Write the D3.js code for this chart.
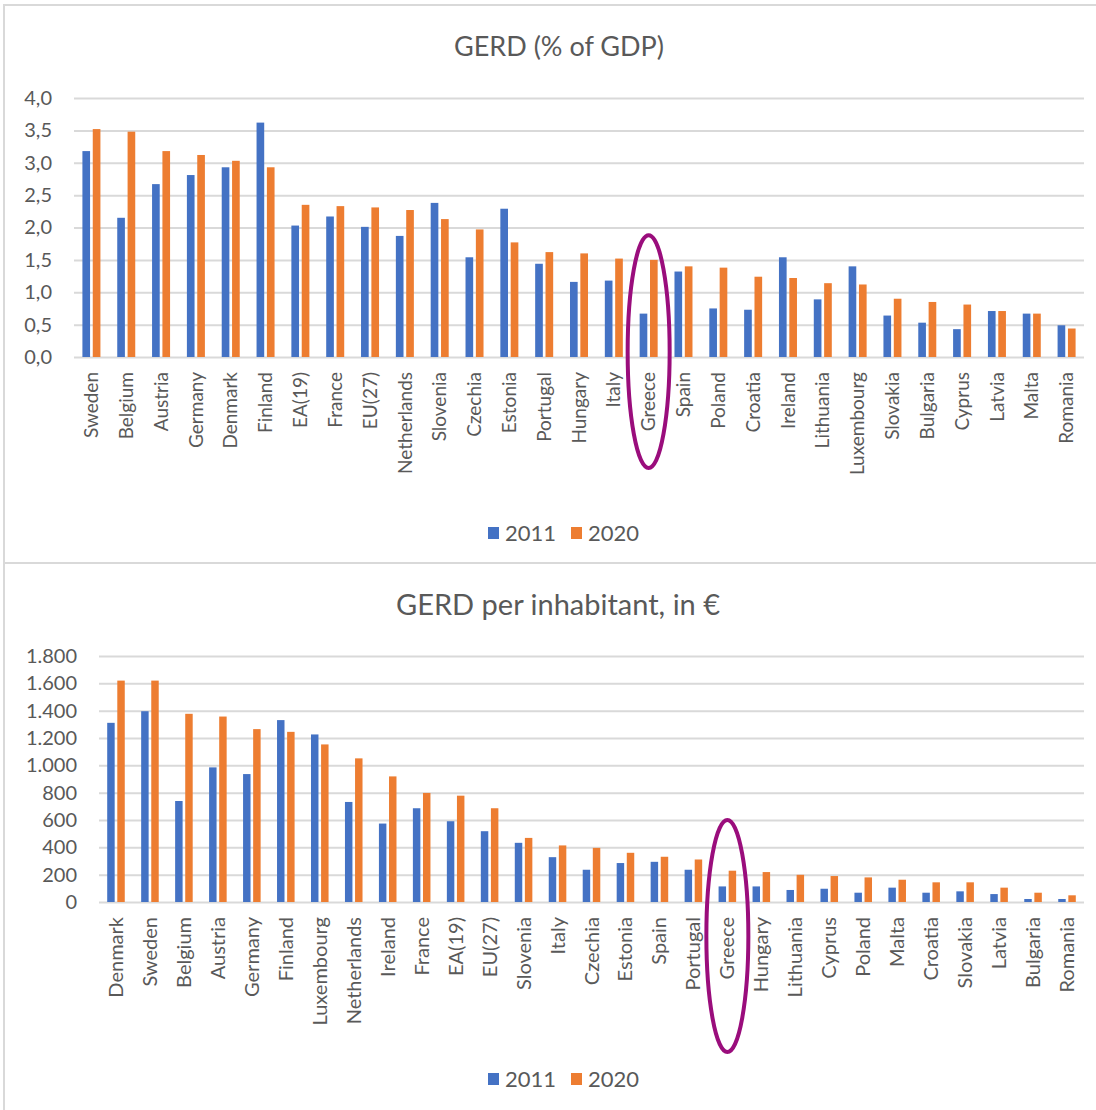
<!DOCTYPE html>
<html>
<head>
<meta charset="utf-8">
<script src="https://cdn.jsdelivr.net/npm/d3@7"></script>
<style>
  html, body { margin: 0; padding: 0; background: #fff; }
  svg { display: block; }
  text { font-family: Lato, "Open Sans", sans-serif; fill: #595959; }
</style>
</head>
<body>
<svg id="chart" width="1096" height="1110"></svg>
<script>
// ---------- DATA ----------
const seriesNames = ["2011", "2020"];

// Chart 1: GERD (% of GDP)
const gdpCountries = ["Sweden","Belgium","Austria","Germany","Denmark","Finland","EA(19)","France","EU(27)","Netherlands","Slovenia","Czechia","Estonia","Portugal","Hungary","Italy","Greece","Spain","Poland","Croatia","Ireland","Lithuania","Luxembourg","Slovakia","Bulgaria","Cyprus","Latvia","Malta","Romania"];
const gdp2011 = [3.18,2.15,2.67,2.81,2.93,3.62,2.03,2.17,2.01,1.87,2.38,1.54,2.29,1.44,1.16,1.18,0.67,1.32,0.75,0.73,1.54,0.89,1.40,0.64,0.53,0.43,0.71,0.67,0.49];
const gdp2020 = [3.52,3.48,3.18,3.12,3.03,2.93,2.35,2.33,2.31,2.27,2.13,1.97,1.77,1.62,1.60,1.52,1.50,1.40,1.38,1.24,1.22,1.14,1.12,0.90,0.85,0.81,0.71,0.67,0.44];
const gdpTicks = [0,0.5,1,1.5,2,2.5,3,3.5,4];

// Chart 2: GERD per inhabitant, in €
const inhCountries = ["Denmark","Sweden","Belgium","Austria","Germany","Finland","Luxembourg","Netherlands","Ireland","France","EA(19)","EU(27)","Slovenia","Italy","Czechia","Estonia","Spain","Portugal","Greece","Hungary","Lithuania","Cyprus","Poland","Malta","Croatia","Slovakia","Latvia","Bulgaria","Romania"];
const inh2011 = [1311,1396,739,985,936,1331,1226,732,574,686,591,518,433,328,236,285,294,236,114,114,88,97,68,105,68,78,58,22,22];
const inh2020 = [1620,1620,1377,1357,1265,1245,1153,1051,919,798,778,686,469,414,396,360,331,311,229,219,199,190,180,163,144,144,105,68,49];
const inhTicks = [0,200,400,600,800,1000,1200,1400,1600,1800];

const highlight = "Greece";

// ---------- STYLE ----------
const colors = { "2011": "#4472C4", "2020": "#ED7D31" };
const gridColor = "#d9d9d9";
const ringColor = "#9A0D7C";

const svg = d3.select("#chart");

// panel borders
svg.append("rect").attr("x", 4).attr("y", 5).attr("width", 1100).attr("height", 558)
  .attr("fill", "none").attr("stroke", gridColor).attr("stroke-width", 2);
svg.append("rect").attr("x", 4).attr("y", 563).attr("width", 1100).attr("height", 560)
  .attr("fill", "none").attr("stroke", gridColor).attr("stroke-width", 2);

function drawChart(cfg) {
  const g = svg.append("g");
  const x0 = d3.scaleBand().domain(cfg.categories).range([cfg.left, cfg.right])
    .paddingInner(0.483).paddingOuter(0.2415);
  const x1 = d3.scaleBand().domain(seriesNames).range([0, x0.bandwidth()]).paddingInner(0.26);
  const y = d3.scaleLinear().domain(cfg.domain).range([cfg.bottom, cfg.top]);

  // title
  g.append("text").attr("x", cfg.titleX).attr("y", cfg.titleY)
    .attr("text-anchor", "middle").attr("font-size", cfg.titleSize).text(cfg.title);

  // grid + y tick labels via axis
  const yAxis = d3.axisLeft(y).tickValues(cfg.ticks).tickFormat(cfg.format)
    .tickSize(-(cfg.right - cfg.left)).tickPadding(cfg.tickPad);
  const ya = g.append("g").attr("transform", `translate(${cfg.left},0)`).call(yAxis);
  ya.select(".domain").remove();
  ya.selectAll(".tick line").attr("stroke", gridColor).attr("stroke-width", 2);
  ya.selectAll(".tick text").attr("font-size", 20).attr("fill", "#595959")
    .style("font-family", "Lato, 'Open Sans', sans-serif");

  // bars
  const rows = cfg.categories.map((c, i) => ({ c, v: [cfg.s1[i], cfg.s2[i]] }));
  const grp = g.selectAll(".grp").data(rows).join("g")
    .attr("transform", d => `translate(${x0(d.c)},0)`);
  grp.selectAll("rect").data(d => seriesNames.map((s, k) => ({ s, v: d.v[k] }))).join("rect")
    .attr("x", d => x1(d.s)).attr("width", x1.bandwidth())
    .attr("y", d => y(d.v)).attr("height", d => y(0) - y(d.v))
    .attr("fill", d => colors[d.s]);

  // x labels
  const xAxis = d3.axisBottom(x0).tickSize(0).tickPadding(0);
  const xa = g.append("g").attr("transform", `translate(0,${cfg.bottom})`).call(xAxis);
  xa.select(".domain").remove();
  xa.selectAll(".tick text")
    .attr("font-size", cfg.labelSize).attr("fill", "#595959")
    .style("font-family", "Lato, 'Open Sans', sans-serif")
    .attr("text-anchor", "end")
    .attr("transform", "rotate(-90)")
    .attr("x", -cfg.labelGap).attr("y", 0).attr("dy", "0.35em");

  // legend
  const lg = g.append("g").attr("transform", `translate(${cfg.legendX},${cfg.legendY})`);
  seriesNames.forEach((s, k) => {
    const ox = k * 83;
    lg.append("rect").attr("x", ox).attr("y", -6).attr("width", 11).attr("height", 12).attr("fill", colors[s]);
    lg.append("text").attr("x", ox + 17).attr("y", 0).attr("dy", "0.36em")
      .attr("font-size", 22).text(s);
  });

  // highlight ring
  const cx = x0(highlight) + x0.bandwidth() / 2;
  const yTop = y(cfg.ringTopValue);
  const yBot = cfg.bottom + cfg.ringBelow;
  g.append("ellipse").attr("cx", cx).attr("cy", (yTop + yBot) / 2)
    .attr("rx", 21).attr("ry", (yBot - yTop) / 2)
    .attr("fill", "none").attr("stroke", ringColor).attr("stroke-width", 4);
}

drawChart({
  title: "GERD (% of GDP)", titleX: 559, titleY: 56, titleSize: 27,
  categories: gdpCountries, s1: gdp2011, s2: gdp2020,
  domain: [0, 4], ticks: gdpTicks, format: d => d.toFixed(1).replace(".", ","),
  left: 74, right: 1084, top: 98, bottom: 357, tickPad: 22, labelGap: 15, labelSize: 19,
  legendX: 488, legendY: 533, ringTopValue: 1.88, ringBelow: 111
});

drawChart({
  title: "GERD per inhabitant, in €", titleX: 558, titleY: 615, titleSize: 29,
  categories: inhCountries, s1: inh2011, s2: inh2020,
  domain: [0, 1800], ticks: inhTicks, format: d => d3.format(",")(d).replace(/,/g, "."),
  left: 99, right: 1084, top: 656, bottom: 902, tickPad: 22, labelGap: 15, labelSize: 20,
  legendX: 488, legendY: 1079, ringTopValue: 600, ringBelow: 150
});
</script>
</body>
</html>
